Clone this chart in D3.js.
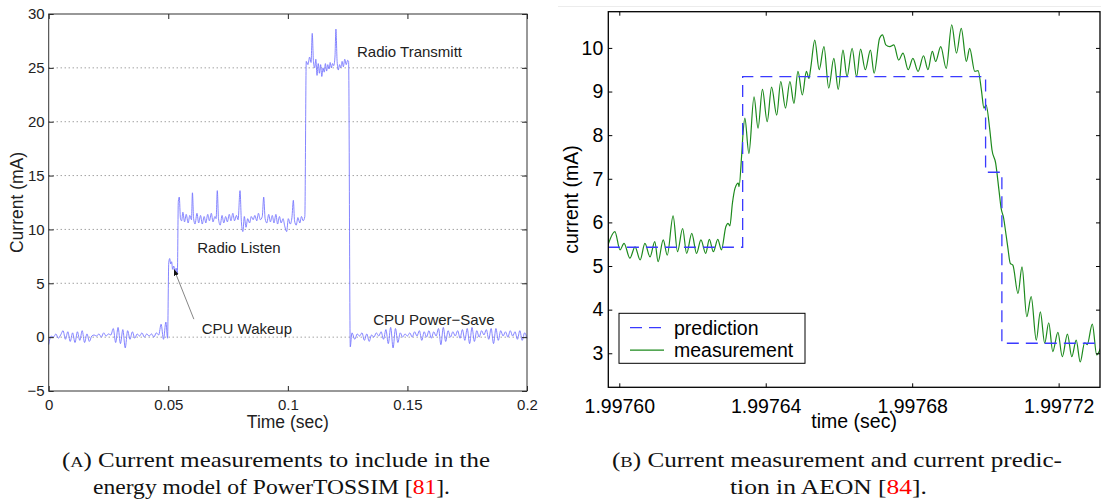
<!DOCTYPE html>
<html>
<head>
<meta charset="utf-8">
<script src="https://cdn.jsdelivr.net/npm/d3@7"></script>
<style>
  body { margin: 0; background: #fff; }
  svg { display: block; }
</style>
</head>
<body>
<div id="figure"></div>
<script>
// ---- (A) PowerTOSSIM current trace: [time (s), current (mA)] ----
const tossimTrace = [
  [0,-0.7],[.001,0.1],[.002,0.0],[.003,0.3],[.004,-0.1],[.005,0.2],[.006,0.6],[.007,-0.2],[.008,0.5],[.009,-0.4],
  [.010,0.4],[.011,-0.5],[.012,0.5],[.013,-0.3],[.014,0.6],[.015,-0.5],[.016,0.3],[.017,-0.4],[.018,0.1],[.019,0.2],
  [.020,0.1],[.021,0.3],[.022,0.0],[.023,0.4],[.024,0.1],[.025,0.3],[.026,0.2],[.027,0.8],[.028,-0.5],[.029,0.9],
  [.030,-0.6],[.031,0.7],[.032,-1.0],[.033,0.6],[.034,-0.2],[.035,0.5],[.036,-0.1],[.037,0.3],[.038,0.1],[.039,0.4],
  [.040,0.0],[.041,0.3],[.042,0.1],[.043,0.3],[.044,0.0],[.045,0.4],[.046,0.2],[.047,1.2],[.048,-0.2],[.049,1.4],
  [.0497,-0.1],
  // cpu wakeup
  [.0502,6.9],[.0506,7.3],[.0510,6.8],[.0514,7.0],[.0518,6.3],[.0523,6.6],[.0528,6.1],[.0533,6.4],[.0538,5.9],
  // radio listen
  [.0542,12.6],[.0546,13.0],[.0551,11.0],[.0556,10.8],[.0561,11.6],[.0568,10.7],[.0575,11.4],[.0583,10.6],[.0590,11.3],
  [.0597,10.9],[.0601,13.4],[.0606,11.0],[.0612,10.5],[.0620,11.5],[.0627,10.6],[.0635,11.3],[.0642,10.5],[.0650,11.2],
  [.0657,10.6],[.0665,11.4],[.0672,10.8],[.0680,11.5],[.0687,10.7],[.0695,11.2],[.0700,11.0],[.0705,13.6],[.0710,11.0],
  [.0717,10.4],[.0725,11.3],[.0732,10.6],[.0740,11.2],[.0747,10.7],[.0755,11.4],[.0762,10.8],[.0770,11.5],[.0777,10.8],
  [.0785,11.3],[.0792,10.9],[.0800,13.6],[.0806,10.6],[.0812,9.8],[.0818,11.2],[.0825,10.2],[.0832,11.0],[.0840,10.6],
  [.0847,11.2],[.0855,10.9],[.0862,11.3],[.0870,10.8],[.0877,11.5],[.0885,10.9],[.0893,11.2],[.0899,13.0],[.0905,11.0],
  [.0912,10.6],[.0920,11.4],[.0927,10.7],[.0935,11.3],[.0942,10.6],[.0950,11.4],[.0957,10.5],[.0965,11.2],[.0972,10.6],
  [.0980,11.0],[.0987,10.3],[.0995,9.8],[.1002,11.0],[.1010,10.5],[.1017,11.1],[.1023,12.7],[.1028,10.8],[.1035,10.4],
  [.1042,11.1],[.1050,10.6],[.1057,11.2],[.1064,10.8],[.1071,11.2],
  // radio transmit
  [.1077,25.6],[.1084,25.3],[.1091,26.0],[.1097,25.5],[.1102,28.2],[.1107,25.6],[.1112,25.0],[.1117,25.8],[.1122,24.3],
  [.1127,25.4],[.1132,24.5],[.1137,25.3],[.1142,24.2],[.1147,25.0],[.1152,24.6],[.1157,25.4],[.1162,24.7],[.1167,25.3],
  [.1172,24.9],[.1177,25.5],[.1182,25.0],[.1187,25.4],[.1192,25.2],[.1197,26.0],[.1201,28.6],[.1206,25.6],[.1211,24.8],
  [.1216,25.3],[.1221,25.0],[.1227,25.6],[.1232,25.1],[.1238,25.8],[.1244,25.3],[.1250,25.7],[.1254,25.6],
  // cpu power-save
  [.1261,-0.9],[.1268,0.4],[.128,-0.2],[.129,0.3],[.130,0.1],[.131,0.4],[.132,-0.3],[.133,0.3],[.134,-0.4],[.135,0.2],
  [.136,0.0],[.137,0.4],[.138,0.1],[.139,0.5],[.140,-0.2],[.141,0.7],[.142,-0.6],[.143,0.9],[.144,-1.0],[.145,0.8],
  [.146,-0.5],[.147,0.4],[.148,0.0],[.149,0.3],[.150,0.1],[.151,0.4],[.152,0.0],[.153,0.5],[.154,0.1],[.155,0.6],
  [.156,-0.3],[.157,0.5],[.158,0.0],[.159,0.6],[.160,-0.1],[.161,0.5],[.162,0.1],[.163,0.8],[.164,-0.7],[.165,0.9],
  [.166,-0.4],[.167,0.6],[.168,0.0],[.169,0.5],[.170,0.1],[.171,0.6],[.172,-0.1],[.173,0.7],[.174,-0.3],[.175,0.8],
  [.176,-0.6],[.177,0.9],[.178,-0.4],[.179,0.6],[.180,0.0],[.181,0.6],[.182,0.2],[.183,0.7],[.184,-0.2],[.185,0.8],
  [.186,-0.6],[.187,0.8],[.188,-0.3],[.189,0.6],[.190,0.1],[.191,0.5],[.192,0.0],[.193,0.6],[.194,0.1],[.195,0.5],
  [.196,-0.2],[.197,0.6],[.198,-0.3],[.199,0.4],[.200,-0.1]
];
const tossimXTicks = [0, 0.05, 0.1, 0.15, 0.2];
const tossimXLabels = ["0", "0.05", "0.1", "0.15", "0.2"];
const tossimYTicks = [-5, 0, 5, 10, 15, 20, 25, 30];
const tossimYLabels = ["\u22125", "0", "5", "10", "15", "20", "25", "30"];
const tossimStates = ["Radio Transmitt", "Radio Listen", "CPU Wakeup", "CPU Power\u2212Save"];

// ---- (B) AEON: time in microseconds after 1.99760 s, current in mA ----
const AEON_T0 = 1.99760;
const aeonMeasured = [
  [-3.1,5.48],[-1.2,5.79],[0.2,5.37],[1.3,5.52],[2.9,5.18],[4.3,5.44],[5.7,5.14],[7.0,5.52],[8.4,5.21],[9.7,5.56],
  [10.6,5.10],[12.0,5.60],[13.1,5.25],[14.7,6.15],[15.9,5.33],[17.3,5.86],[18.4,5.29],[19.8,5.75],[21.1,5.29],[22.3,5.60],
  [23.6,5.29],[24.6,5.61],[25.7,5.33],[26.9,5.61],[27.9,5.37],[29.1,5.90],[29.7,5.98],[30.2,5.92],[30.9,6.44],[31.6,6.78],
  [32.5,6.90],[32.7,6.82],[33.4,7.51],[33.8,8.04],[34.3,8.39],[35.4,7.58],[36.8,8.88],[37.9,8.16],[39.1,9.05],[40.4,8.31],
  [41.6,9.10],[43.0,8.46],[44.1,9.23],[45.4,8.62],[46.6,9.23],[47.7,8.73],[48.8,9.46],[50.0,8.92],[51.1,9.46],[51.8,9.30],
  [52.3,9.55],[53.4,10.18],[54.6,9.50],[55.9,10.03],[57.2,9.08],[58.6,9.76],[59.8,9.05],[61.1,9.95],[62.2,9.34],[63.6,9.99],
  [64.8,9.34],[65.9,9.97],[67.2,9.50],[68.6,9.95],[69.6,9.42],[71.1,10.22],[71.9,10.30],[72.8,10.07],[73.9,10.03],[75.0,10.07],
  [76.3,9.72],[77.5,9.88],[78.9,9.50],[80.2,9.76],[81.6,9.46],[83.1,9.82],[84.3,9.50],[85.5,9.92],[86.4,9.69],[87.8,10.03],
  [89.3,9.53],[90.8,10.53],[92.1,9.88],[93.4,10.45],[94.8,9.69],[95.7,9.99],[97.1,9.46],[98.0,9.48],[98.9,9.04],[99.6,8.62],
  [100.2,8.69],[101.2,8.12],[101.8,7.66],[102.8,7.36],[103.7,6.74],[104.3,6.32],[105.0,6.09],[105.2,5.98],[106.1,5.44],[106.8,5.06],
  [107.5,5.02],[108.9,4.37],[110.0,4.98],[111.3,3.84],[112.5,4.30],[113.9,3.30],[115.0,3.95],[116.2,3.23],[117.3,3.70],[118.4,3.04],
  [119.8,3.48],[121.0,2.92],[122.4,3.44],[123.6,2.92],[124.8,3.30],[125.9,2.80],[127.1,3.24],[127.8,3.20],[129.2,3.67],[130.4,2.96],
  [131.4,3.11]
];
const aeonPredEdges = [-3.1, 33.7, 100.05, 104.5, 131.4];   // µs after T0
const aeonPredLevels = [5.43, 9.34, 7.15, 3.23];             // mA
const aeonXTicks = [1.99760, 1.99764, 1.99768, 1.99772];
const aeonYTicks = [3, 4, 5, 6, 7, 8, 9, 10];
const aeonSeries = ["prediction", "measurement"];

const SANS = "'Liberation Sans', Arial, Helvetica, sans-serif";
const SERIF = "'Liberation Serif', 'Times New Roman', serif";

const svg = d3.select("#figure").append("svg")
    .attr("width", 1101)
    .attr("height", 502);

function styleAxis(g, size, color) {
  g.attr("font-family", SANS).attr("font-size", size).attr("color", color);
  g.select(".domain").remove();
  g.selectAll("text").attr("fill", color);
}

function drawTossim() {
  const box = {left: 48.7, right: 527, top: 14, bottom: 391};
  const x = d3.scaleLinear().domain([0, 0.2]).range([box.left, box.right]);
  const y = d3.scaleLinear().domain([-5, 30]).range([box.bottom, box.top]);
  const g = svg.append("g");
  const ink = "#222";

  // dotted horizontal grid (matlab style)
  g.append("g").selectAll("line")
    .data(tossimYTicks.slice(1, -1))
    .join("line")
      .attr("x1", box.left).attr("x2", box.right)
      .attr("y1", d => y(d)).attr("y2", d => y(d))
      .attr("stroke", "#555").attr("stroke-width", 0.8)
      .attr("stroke-dasharray", "1,3");

  // the signal
  g.append("path")
    .datum(tossimTrace)
    .attr("fill", "none")
    .attr("stroke", "#7777ff")
    .attr("stroke-width", 0.9)
    .attr("d", d3.line().curve(d3.curveMonotoneX).x(d => x(d[0])).y(d => y(d[1])));

  // axes, ticks inside
  g.append("g").attr("transform", `translate(0,${box.bottom})`)
    .call(d3.axisBottom(x).tickValues(tossimXTicks).tickSize(-5).tickPadding(8)
      .tickFormat((d, i) => tossimXLabels[i]))
    .call(a => styleAxis(a, 15, ink));
  g.append("g").attr("transform", `translate(${box.left},0)`)
    .call(d3.axisLeft(y).tickValues(tossimYTicks).tickSize(-5).tickPadding(4)
      .tickFormat((d, i) => tossimYLabels[i]))
    .call(a => styleAxis(a, 15, ink));
  g.append("g").attr("transform", `translate(0,${box.top})`)
    .call(d3.axisTop(x).tickValues(tossimXTicks).tickSize(-5).tickFormat(""))
    .call(a => styleAxis(a, 15, ink));
  g.append("g").attr("transform", `translate(${box.right},0)`)
    .call(d3.axisRight(y).tickValues(tossimYTicks).tickSize(-5).tickFormat(""))
    .call(a => styleAxis(a, 15, ink));

  g.append("rect")
    .attr("x", box.left).attr("y", box.top)
    .attr("width", box.right - box.left).attr("height", box.bottom - box.top)
    .attr("fill", "none").attr("stroke", "#333").attr("stroke-width", 1);

  // state labels, placed in data units
  const notes = [[0.1289, 26.0], [0.0621, 7.8], [0.0640, 0.28], [0.1357, 1.1]];
  g.append("g").selectAll("text")
    .data(tossimStates)
    .join("text")
      .attr("x", (d, i) => x(notes[i][0]))
      .attr("y", (d, i) => y(notes[i][1]))
      .attr("font-family", SANS).attr("font-size", 15).attr("fill", ink)
      .text(d => d);

  // arrow to the wakeup bump
  svg.append("defs").append("marker")
      .attr("id", "arrowhead")
      .attr("viewBox", "0 0 10 10").attr("refX", 10).attr("refY", 5)
      .attr("markerWidth", 7).attr("markerHeight", 7)
      .attr("orient", "auto")
    .append("path").attr("d", "M0,1 L10,5 L0,9 z").attr("fill", "#111");
  g.append("line")
    .attr("x1", x(0.0607)).attr("y1", y(1.67))
    .attr("x2", x(0.0524)).attr("y2", y(6.3))
    .attr("stroke", "#777").attr("stroke-width", 0.9)
    .attr("marker-end", "url(#arrowhead)");

  g.append("text")
    .attr("x", (box.left + box.right) / 2).attr("y", 428)
    .attr("text-anchor", "middle")
    .attr("font-family", SANS).attr("font-size", 17.5).attr("fill", ink)
    .text("Time (sec)");
  g.append("text")
    .attr("transform", `translate(23,${(box.top + box.bottom) / 2}) rotate(-90)`)
    .attr("text-anchor", "middle")
    .attr("font-family", SANS).attr("font-size", 17.5).attr("fill", ink)
    .text("Current (mA)");
}

function drawAeon() {
  const box = {left: 608.3, right: 1100, top: 11.7, bottom: 387.3};
  const x = d3.scaleLinear().domain([1.997597, 1.9977313]).range([box.left, box.right]);
  const y = d3.scaleLinear().domain([2.22, 10.83]).range([box.bottom, box.top]);
  const g = svg.append("g");
  const ink = "#000";
  const toSec = us => AEON_T0 + us * 1e-6;

  // faint rule above the panel
  g.append("line").attr("x1", 558).attr("x2", 1101).attr("y1", 6.5).attr("y2", 6.5)
    .attr("stroke", "#ececec").attr("stroke-width", 1);

  g.append("clipPath").attr("id", "aeon-clip")
    .append("rect")
      .attr("x", box.left).attr("y", box.top)
      .attr("width", box.right - box.left).attr("height", box.bottom - box.top);

  const predPoints = aeonPredLevels.map((v, i) => [aeonPredEdges[i], v]);
  predPoints.push([aeonPredEdges[aeonPredEdges.length - 1], aeonPredLevels[aeonPredLevels.length - 1]]);

  const plot = g.append("g").attr("clip-path", "url(#aeon-clip)");
  plot.append("path")
    .datum(aeonMeasured)
    .attr("fill", "none").attr("stroke", "#1d8a1d").attr("stroke-width", 1.2)
    .attr("d", d3.line().curve(d3.curveMonotoneX).x(d => x(toSec(d[0]))).y(d => y(d[1])));
  plot.append("path")
    .datum(predPoints)
    .attr("fill", "none").attr("stroke", "#3a3aff").attr("stroke-width", 1.3)
    .attr("stroke-dasharray", "12,7")
    .attr("d", d3.line().curve(d3.curveStepAfter).x(d => x(toSec(d[0]))).y(d => y(d[1])));

  g.append("g").attr("transform", `translate(0,${box.bottom})`)
    .call(d3.axisBottom(x).tickValues(aeonXTicks).tickSize(-4).tickPadding(11.5)
      .tickFormat(d3.format(".5f")))
    .call(a => styleAxis(a, 19.5, ink));
  g.append("g").attr("transform", `translate(${box.left},0)`)
    .call(d3.axisLeft(y).tickValues(aeonYTicks).tickSize(-4).tickPadding(5))
    .call(a => styleAxis(a, 19.5, ink));
  g.append("g").attr("transform", `translate(0,${box.top})`)
    .call(d3.axisTop(x).tickValues(aeonXTicks).tickSize(-4).tickFormat(""))
    .call(a => styleAxis(a, 19.5, ink));
  g.append("g").attr("transform", `translate(${box.right},0)`)
    .call(d3.axisRight(y).tickValues(aeonYTicks).tickSize(-4).tickFormat(""))
    .call(a => styleAxis(a, 19.5, ink));

  g.append("rect")
    .attr("x", box.left).attr("y", box.top)
    .attr("width", box.right - box.left).attr("height", box.bottom - box.top)
    .attr("fill", "none").attr("stroke", ink).attr("stroke-width", 1.3);

  // legend
  const lg = g.append("g").attr("transform", "translate(619,313.3)");
  lg.append("rect").attr("width", 186).attr("height", 50)
    .attr("fill", "#fff").attr("stroke", ink).attr("stroke-width", 1);
  const legendStyle = [
    {stroke: "#3a3aff", dash: "12,7"},
    {stroke: "#1d8a1d", dash: null}
  ];
  const rows = lg.selectAll("g.row").data(aeonSeries).join("g")
    .attr("class", "row")
    .attr("transform", (d, i) => `translate(0,${14.4 + i * 22.4})`);
  rows.append("line")
    .attr("x1", 11).attr("x2", 45)
    .attr("stroke", (d, i) => legendStyle[i].stroke)
    .attr("stroke-width", 1.3)
    .attr("stroke-dasharray", (d, i) => legendStyle[i].dash);
  rows.append("text")
    .attr("x", 55).attr("dy", "0.35em")
    .attr("font-family", SANS).attr("font-size", 19.5).attr("fill", ink)
    .text(d => d);

  g.append("text")
    .attr("x", (box.left + box.right) / 2).attr("y", 428)
    .attr("text-anchor", "middle")
    .attr("font-family", SANS).attr("font-size", 19.5).attr("fill", ink)
    .text("time (sec)");
  g.append("text")
    .attr("transform", `translate(578,${(box.top + box.bottom) / 2}) rotate(-90)`)
    .attr("text-anchor", "middle")
    .attr("font-family", SANS).attr("font-size", 19.5).attr("fill", ink)
    .text("current (mA)");
}

function drawCaptions() {
  const lines = [
    {x: 62, y: 467, len: 428, segs: [["(", ""], ["A", "sc"], [") Current measurements to include in the", ""]]},
    {x: 93, y: 494, len: 357, segs: [["energy model of PowerTOSSIM [", ""], ["81", "ref"], ["].", ""]]},
    {x: 612, y: 467, len: 450, segs: [["(", ""], ["B", "sc"], [") Current measurement and current predic-", ""]]},
    {x: 730, y: 494, len: 197, segs: [["tion in AEON [", ""], ["84", "ref"], ["].", ""]]}
  ];
  const t = svg.append("g").selectAll("text").data(lines).join("text")
    .attr("x", d => d.x).attr("y", d => d.y)
    .attr("font-family", SERIF).attr("font-size", 21).attr("fill", "#111")
    .attr("textLength", d => d.len).attr("lengthAdjust", "spacingAndGlyphs");
  t.selectAll("tspan").data(d => d.segs).join("tspan")
    .attr("font-size", s => s[1] === "sc" ? 15.5 : null)
    .attr("fill", s => s[1] === "ref" ? "#ff0000" : null)
    .text(s => s[0]);
}

drawTossim();
drawAeon();
drawCaptions();
</script>
</body>
</html>
